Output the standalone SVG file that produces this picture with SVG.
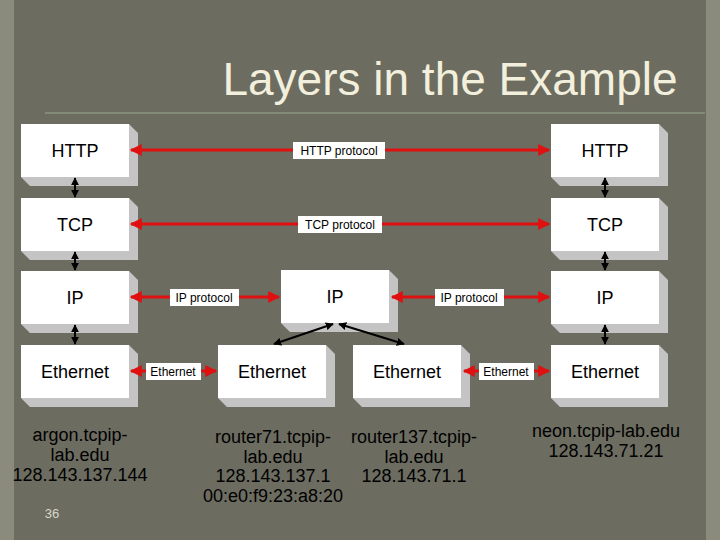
<svg xmlns="http://www.w3.org/2000/svg" width="720" height="540" viewBox="0 0 720 540">
<style>
.f{fill:#fff}.b{fill:#c4c4c4}
.t{font-family:"Liberation Sans",Arial,sans-serif;font-size:18px;text-anchor:middle;fill:#000}
.l{font-family:"Liberation Sans",Arial,sans-serif;font-size:12px;text-anchor:middle;fill:#000}
.c{font-family:"Liberation Sans",Arial,sans-serif;font-size:18px;text-anchor:middle;fill:#000}
.r{stroke:#e01010;stroke-width:3;fill:none;marker-start:url(#ra);marker-end:url(#ra)}
.k{stroke:#000;stroke-width:2;fill:none;marker-start:url(#ka);marker-end:url(#ka)}
</style>
<defs>
<marker id="ra" viewBox="0 0 10 10" refX="9" refY="5" markerWidth="5" markerHeight="4" orient="auto-start-reverse"><path d="M0,0L10,5L0,10z" fill="#e01010"/></marker>
<marker id="ka" viewBox="0 0 10 10" refX="9" refY="5" markerWidth="4" markerHeight="4" orient="auto-start-reverse"><path d="M0,0L10,5L0,10z" fill="#000"/></marker>
<g id="box"><path class="b" d="M108,0L117,9L117,62L9,62L0,53L108,53z"/><rect class="f" width="108" height="53"/></g>
</defs>
<rect width="720" height="540" fill="#6c6c60"/>
<rect width="14" height="540" fill="#8a8b7d"/>
<rect x="706" width="14" height="540" fill="#8a8b7d"/>
<text x="450" y="95" font-family="Liberation Sans,Arial,sans-serif" font-size="46" text-anchor="middle" fill="#f2f0dc">Layers in the Example</text>
<line x1="45" y1="113" x2="705" y2="113" stroke="#9aa88e" stroke-width="1"/>
<g id="n-http-l"><use href="#box" x="21" y="124"/><text class="t" x="75" y="157">HTTP</text></g>
<g id="n-tcp-l"><use href="#box" x="21" y="198"/><text class="t" x="75" y="231">TCP</text></g>
<g id="n-ip-l"><use href="#box" x="21" y="271"/><text class="t" x="75" y="304">IP</text></g>
<g id="n-eth-l"><use href="#box" x="21" y="345"/><text class="t" x="75" y="378">Ethernet</text></g>
<g id="n-http-r"><use href="#box" x="551" y="124"/><text class="t" x="605" y="157">HTTP</text></g>
<g id="n-tcp-r"><use href="#box" x="551" y="198"/><text class="t" x="605" y="231">TCP</text></g>
<g id="n-ip-r"><use href="#box" x="551" y="271"/><text class="t" x="605" y="304">IP</text></g>
<g id="n-eth-r"><use href="#box" x="551" y="345"/><text class="t" x="605" y="378">Ethernet</text></g>
<g id="n-ip-m"><use href="#box" x="281" y="270"/><text class="t" x="335" y="303">IP</text></g>
<g id="n-eth-71"><use href="#box" x="218" y="345"/><text class="t" x="272" y="378">Ethernet</text></g>
<g id="n-eth-137"><use href="#box" x="353" y="345"/><text class="t" x="407" y="378">Ethernet</text></g>
<g id="connectors">
<line class="r" x1="131" y1="150" x2="549" y2="150"/>
<line class="r" x1="131" y1="224" x2="549" y2="224"/>
<line class="r" x1="131" y1="297" x2="279" y2="297"/>
<line class="r" x1="392" y1="297" x2="549" y2="297"/>
<line class="r" x1="131" y1="371" x2="216" y2="371"/>
<line class="r" x1="464" y1="371" x2="549" y2="371"/>
<line class="k" x1="75" y1="178" x2="75" y2="197"/>
<line class="k" x1="75" y1="252" x2="75" y2="270"/>
<line class="k" x1="75" y1="325" x2="75" y2="344"/>
<line class="k" x1="605" y1="178" x2="605" y2="197"/>
<line class="k" x1="605" y1="252" x2="605" y2="270"/>
<line class="k" x1="605" y1="325" x2="605" y2="344"/>
<line class="k" x1="274" y1="344" x2="333" y2="324"/>
<line class="k" x1="339" y1="324" x2="404" y2="344"/>
<rect x="293" y="142" width="92" height="17" fill="#fff"/><text class="l" x="339" y="155">HTTP protocol</text>
<rect x="298" y="216" width="84" height="17" fill="#fff"/><text class="l" x="340" y="229">TCP protocol</text>
<rect x="170" y="289" width="69" height="17" fill="#fff"/><text class="l" x="204" y="302">IP protocol</text>
<rect x="435" y="289" width="69" height="17" fill="#fff"/><text class="l" x="469" y="302">IP protocol</text>
<rect x="146" y="363" width="55" height="17" fill="#fff"/><text class="l" x="173" y="376">Ethernet</text>
<rect x="479" y="363" width="55" height="17" fill="#fff"/><text class="l" x="506" y="376">Ethernet</text>
</g>
<g id="labels">
<text class="c" x="80" y="441">argon.tcpip-</text><text class="c" x="80" y="461">lab.edu</text><text class="c" x="80" y="481">128.143.137.144</text>
<text class="c" x="273" y="443">router71.tcpip-</text><text class="c" x="273" y="463">lab.edu</text><text class="c" x="273" y="482">128.143.137.1</text><text class="c" x="273" y="502">00:e0:f9:23:a8:20</text>
<text class="c" x="414" y="443">router137.tcpip-</text><text class="c" x="414" y="463">lab.edu</text><text class="c" x="414" y="482">128.143.71.1</text>
<text class="c" x="606" y="437">neon.tcpip-lab.edu</text><text class="c" x="606" y="457">128.143.71.21</text>
<text x="52" y="518" font-family="Liberation Sans,Arial,sans-serif" font-size="13" text-anchor="middle" fill="#d8d8c8">36</text>
</g>
</svg>
